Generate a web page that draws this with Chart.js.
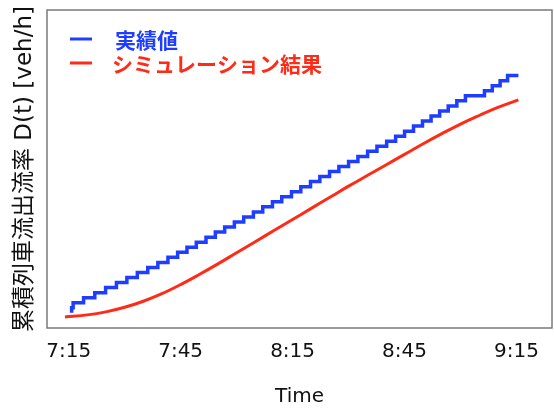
<!DOCTYPE html>
<html>
<head>
<meta charset="utf-8">
<script src="https://cdn.jsdelivr.net/npm/chart.js@4/dist/chart.umd.min.js"></script>
<style>
  html, body { margin: 0; padding: 0; background: #fff; }
  #wrap { width: 554px; height: 410px; }
</style>
</head>
<body>
<div id="wrap"><canvas id="c" width="554" height="410"></canvas></div>
<script>
// Time axis: minutes after 7:15
const tickMinutes = [0, 30, 60, 90, 120];
const tickLabels = ['7:15', '7:45', '8:15', '8:45', '9:15'];

// Observed cumulative departures (step function): time of each increment and the count reached
const observedTimes = [0.8, 1.2, 4.0, 7.0, 9.9, 12.8, 15.6, 18.4, 21.2, 23.9, 26.6, 29.2, 31.7,
  34.2, 36.8, 39.3, 41.8, 44.4, 46.9, 49.5, 52.0, 54.6, 57.1, 59.7, 62.2, 64.8, 67.3, 69.9,
  72.4, 75.0, 77.5, 80.1, 82.6, 85.2, 87.6, 90.0, 92.4, 94.8, 97.1, 99.4, 101.7, 104.0,
  106.3, 111.4, 113.5, 115.6, 117.6, 119.6, 120.5];
const observedCounts = [3, 4, 5, 6, 7, 8, 9, 10, 11, 12, 13, 14, 15,
  16, 17, 18, 19, 20, 21, 22, 23, 24, 25, 26, 27, 28, 29, 30,
  31, 32, 33, 34, 35, 36, 37, 38, 39, 40, 41, 42, 43, 44,
  45, 46, 47, 48, 49, 50, 50];

// Simulated cumulative departures
const simTimes = [-1, 5, 10, 15, 20, 25, 30, 35, 40, 45, 50, 55, 60, 65, 70, 75, 80, 85, 90,
  95, 100, 105, 110, 115, 120.5];
const simValues = [2.2, 2.6, 3.2, 4.1, 5.3, 6.8, 8.6, 10.6, 12.7, 14.9, 17.1, 19.3, 21.5,
  23.7, 25.9, 28.1, 30.2, 32.3, 34.4, 36.5, 38.5, 40.4, 42.1, 43.7, 45.2];

const seriesNames = ['実績値', 'シミュレーション結果'];
const BLUE = '#1f3dff';
const RED = '#ff2b17';

const toXY = (xs, ys) => xs.map((x, i) => ({ x: x, y: ys[i] }));

// Legend drawn inside the plot area, plus a full frame around it
const innerLegend = {
  id: 'innerLegend',
  afterDraw(chart) {
    const { ctx, chartArea } = chart;
    ctx.save();
    // frame
    ctx.strokeStyle = '#7a7a7a';
    ctx.lineWidth = 1.5;
    ctx.strokeRect(chartArea.left, chartArea.top, chartArea.right - chartArea.left, chartArea.bottom - chartArea.top);
    // legend entries
    const rows = [29, 53];
    ctx.font = 'bold 21px "Noto Sans CJK JP", sans-serif';
    ctx.textBaseline = 'middle';
    chart.data.datasets.forEach((ds, i) => {
      const y = chartArea.top + rows[i];
      ctx.strokeStyle = ds.borderColor;
      ctx.lineWidth = 3;
      ctx.beginPath();
      ctx.moveTo(chartArea.left + 23, y);
      ctx.lineTo(chartArea.left + 45, y);
      ctx.stroke();
      ctx.fillStyle = ds.borderColor;
      ctx.fillText(ds.label, chartArea.left + (i === 0 ? 68 : 65), y + 1);
    });
    ctx.restore();
  }
};

new Chart(document.getElementById('c'), {
  type: 'line',
  data: {
    datasets: [
      {
        label: seriesNames[0],
        data: toXY(observedTimes, observedCounts),
        borderColor: BLUE,
        borderWidth: 3.5,
        pointRadius: 0,
        stepped: 'after',
        fill: false
      },
      {
        label: seriesNames[1],
        data: toXY(simTimes, simValues),
        borderColor: RED,
        borderWidth: 3,
        pointRadius: 0,
        tension: 0.4,
        fill: false
      }
    ]
  },
  options: {
    responsive: false,
    animation: false,
    layout: { padding: { top: 10, right: 2, left: 0, bottom: 0 } },
    plugins: {
      legend: { display: false },
      tooltip: { enabled: false }
    },
    scales: {
      x: {
        type: 'linear',
        min: -5.8,
        max: 129.5,
        afterBuildTicks(scale) {
          scale.ticks = tickMinutes.map(v => ({ value: v }));
        },
        afterFit(scale) { scale.height = 82; },
        grid: { display: false, drawTicks: false },
        border: { display: false },
        ticks: {
          color: '#111',
          font: { family: '"DejaVu Sans", sans-serif', size: 20 },
          padding: 12,
          maxRotation: 0,
          autoSkip: false,
          callback: (v) => tickLabels[tickMinutes.indexOf(v)]
        },
        title: {
          display: true,
          text: 'Time',
          color: '#111',
          font: { family: '"DejaVu Sans", sans-serif', size: 20 },
          padding: { top: 0, bottom: 1 }
        }
      },
      y: {
        type: 'linear',
        min: 0,
        max: 63,
        afterFit(scale) { scale.width = 47; },
        grid: { display: false, drawTicks: false },
        border: { display: false },
        ticks: { display: false },
        title: {
          display: true,
          text: '累積列車流出流率 D(t) [veh/h]',
          color: '#111',
          font: { family: '"DejaVu Sans", "Noto Sans CJK JP", sans-serif', size: 23 },
          padding: { top: 11, bottom: 0 }
        }
      }
    }
  },
  plugins: [innerLegend]
});
</script>
</body>
</html>
